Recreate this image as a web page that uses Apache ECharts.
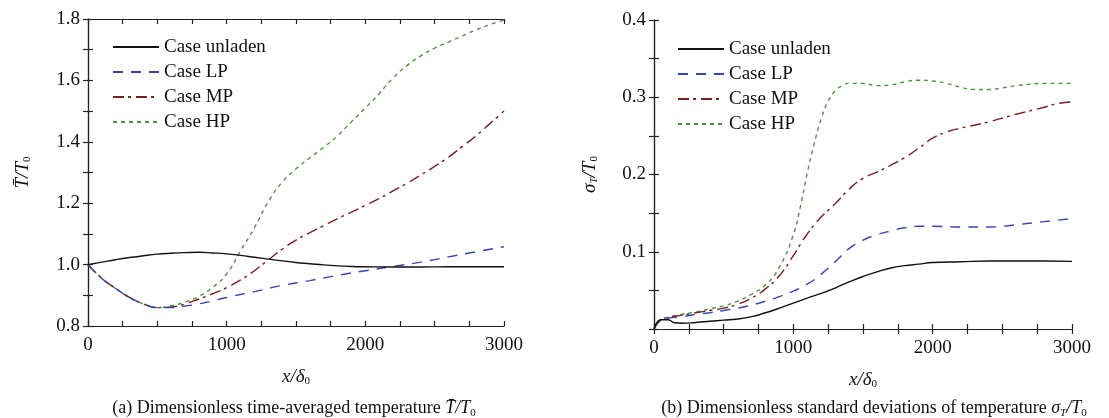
<!DOCTYPE html>
<html><head><meta charset="utf-8">
<script src="https://cdn.jsdelivr.net/npm/echarts@6/dist/echarts.min.js"></script>
<style>html,body{margin:0;padding:0;background:#fff}#c{width:1109px;height:418px}</style>
</head><body><div id="c"></div>
<script>
// ---- Panel (a): time-averaged temperature T̄/T0 ----
const xA_unladen = [0,100,200,300,400,500,600,700,800,900,1000,1100,1200,1300,1400,1500,1600,1700,1800,1900,2000,2200,2400,2600,2800,3000];
const yA_unladen = [1.0,1.008,1.016,1.023,1.029,1.034,1.037,1.039,1.04,1.038,1.035,1.03,1.024,1.018,1.012,1.007,1.003,0.999,0.996,0.994,0.993,0.992,0.992,0.993,0.993,0.993];
const xA_LP = [0,100,200,300,400,500,600,700,800,900,1000,1200,1400,1600,1800,2000,2200,2400,2600,2800,3000];
const yA_LP = [1.0,0.955,0.922,0.893,0.872,0.86,0.86,0.865,0.872,0.882,0.893,0.912,0.932,0.948,0.965,0.98,0.994,1.008,1.025,1.042,1.058];
const xA_MP = [0,100,200,300,400,500,600,700,800,900,1000,1100,1200,1300,1400,1500,1600,1700,1800,1900,2000,2100,2200,2300,2400,2500,2600,2700,2800,2900,3000];
const yA_MP = [1.0,0.955,0.922,0.893,0.872,0.86,0.862,0.872,0.888,0.905,0.925,0.95,0.98,1.015,1.05,1.08,1.104,1.127,1.15,1.171,1.193,1.215,1.24,1.265,1.292,1.32,1.35,1.385,1.42,1.46,1.5];
const xA_HP = [0,100,200,300,400,500,600,700,800,900,1000,1100,1200,1300,1400,1500,1600,1700,1800,1900,2000,2100,2200,2300,2400,2500,2600,2700,2800,2900,3000];
const yA_HP = [1.0,0.955,0.922,0.893,0.872,0.86,0.866,0.878,0.897,0.926,0.97,1.045,1.12,1.205,1.268,1.312,1.348,1.382,1.42,1.465,1.51,1.557,1.608,1.648,1.68,1.705,1.725,1.745,1.765,1.782,1.797];

// ---- Panel (b): standard deviation sigma_T/T0 ----
const xB_unladen = [0,50,100,150,200,300,400,500,600,700,800,900,1000,1100,1200,1300,1400,1500,1600,1700,1800,1900,2000,2200,2400,2600,2800,3000];
const yB_unladen = [0,0.012,0.012,0.008,0.0075,0.0085,0.01,0.0115,0.013,0.016,0.021,0.027,0.0335,0.04,0.046,0.053,0.061,0.068,0.074,0.079,0.082,0.084,0.086,0.087,0.088,0.088,0.088,0.0875];
const xB_LP = [0,50,100,200,300,400,500,600,700,800,900,1000,1100,1200,1300,1400,1500,1600,1700,1800,1900,2000,2200,2400,2600,2800,3000];
const yB_LP = [0,0.012,0.014,0.016,0.019,0.021,0.024,0.027,0.031,0.036,0.042,0.049,0.058,0.071,0.087,0.104,0.115,0.122,0.127,0.131,0.133,0.133,0.132,0.132,0.135,0.139,0.143];
const xB_MP = [0,50,100,200,300,400,500,600,700,800,900,1000,1100,1200,1300,1400,1500,1600,1700,1800,1900,2000,2100,2200,2400,2600,2800,2900,3000];
const yB_MP = [0,0.012,0.015,0.018,0.021,0.024,0.027,0.032,0.04,0.052,0.069,0.095,0.123,0.145,0.162,0.181,0.195,0.203,0.212,0.222,0.234,0.247,0.255,0.26,0.268,0.278,0.287,0.292,0.294];
const xB_HP = [0,50,100,200,300,400,500,600,700,800,900,1000,1050,1100,1150,1200,1250,1300,1350,1400,1500,1600,1700,1800,1900,2000,2100,2200,2300,2400,2500,2600,2700,2800,2900,3000];
const yB_HP = [0,0.012,0.015,0.019,0.022,0.026,0.03,0.036,0.045,0.057,0.08,0.122,0.158,0.202,0.24,0.272,0.295,0.308,0.315,0.318,0.318,0.315,0.316,0.32,0.322,0.321,0.318,0.313,0.31,0.31,0.312,0.315,0.317,0.318,0.318,0.318];

const names = ['Case unladen','Case LP','Case MP','Case HP'];
const colors = ['#111111','#3646b0','#772020','#4f9444'];
const dashes = ['solid',[10,8],[11,4,3,5],[4,4]];
const xTicks = [0,1000,2000,3000];

const FONT = 'Liberation Serif';
const pair = (xs, ys) => xs.map((x,i)=>[x, ys[i]]);
const dataA = [pair(xA_unladen,yA_unladen),pair(xA_LP,yA_LP),pair(xA_MP,yA_MP),pair(xA_HP,yA_HP)];
const dataB = [pair(xB_unladen,yB_unladen),pair(xB_LP,yB_LP),pair(xB_MP,yB_MP),pair(xB_HP,yB_HP)];

const axisLine = {show:true, lineStyle:{color:'#222', width:1.2}};
const tick = {show:true, inside:true, length:5, lineStyle:{color:'#222', width:1.2}};
const lbl = {color:'#111', fontFamily:FONT, fontSize:19};
const rich = {
  i:{fontFamily:FONT, fontStyle:'italic', fontSize:19, color:'#111'},
  s:{fontFamily:FONT, fontSize:11, color:'#111', padding:[10,0,0,0]},
  si:{fontFamily:FONT, fontStyle:'italic', fontSize:11, color:'#111', padding:[10,0,0,0]},
  n:{fontFamily:FONT, fontSize:18, color:'#111'},
  ni:{fontFamily:FONT, fontStyle:'italic', fontSize:18, color:'#111'}
};

function xAxes(gi){
  return [
    {type:'value', gridIndex:gi, min:0, max:3000, interval:250, position:'bottom',
     axisLine, axisTick:tick, splitLine:{show:false},
     axisLabel:{...lbl, margin:10, formatter:v=> xTicks.includes(v) ? String(v) : ''},
     name:'{i|x/δ}{s|0}', nameLocation:'middle', nameGap:40, nameTextStyle:{rich}},
    {type:'value', gridIndex:gi, min:0, max:3000, interval:250, position:'top',
     axisLine, axisTick:tick, splitLine:{show:false}, axisLabel:{show:false}}
  ];
}

const legendBase = {orient:'vertical', itemWidth:46, itemHeight:14, itemGap:5,
  itemStyle:{opacity:0, borderWidth:0},
  textStyle:{fontFamily:FONT, fontSize:19, color:'#111', lineHeight:20}, data:names};

const option = {
  animation:false,
  backgroundColor:'#fff',
  grid:[
    {left:88, right:605, top:19, bottom:92},
    {left:654, right:37, top:20, bottom:89}
  ],
  xAxis:[...xAxes(0), ...xAxes(1)],
  yAxis:[
    {type:'value', gridIndex:0, min:0.8, max:1.8, interval:0.1, position:'left',
     axisLine, axisTick:tick, splitLine:{show:false},
     axisLabel:{...lbl, margin:8, formatter:v=> (Math.round(v*10)%2===0) ? v.toFixed(1) : ''},
     name:'{i|T̄/T}{s|0}', nameLocation:'middle', nameGap:55, nameRotate:90, nameTextStyle:{rich}},
    {type:'value', gridIndex:0, min:0.8, max:1.8, interval:0.1, position:'right',
     axisLine, axisTick:tick, splitLine:{show:false}, axisLabel:{show:false}},
    {type:'value', gridIndex:1, min:0, max:0.4, interval:0.05, position:'left',
     axisLine, axisTick:tick, splitLine:{show:false},
     axisLabel:{...lbl, margin:8, formatter:v=> { const k=Math.round(v*100); return (k>0 && k%10===0) ? (k/100).toFixed(1) : ''; }},
     name:'{i|σ}{si|T}{i|/T}{s|0}', nameLocation:'middle', nameGap:54, nameRotate:90, nameTextStyle:{rich}},
    {type:'value', gridIndex:1, min:0, max:0.4, interval:0.05, position:'right',
     axisLine, axisTick:tick, splitLine:{show:false}, axisLabel:{show:false}}
  ],
  legend:[
    {...legendBase, left:107, top:32},
    {...legendBase, left:672, top:34}
  ],
  title:[
    {text:'(a) Dimensionless time-averaged temperature {ni|T̄/T}{s|0}', left:289, top:393, textAlign:'center',
     textStyle:{fontFamily:FONT, fontSize:18, fontWeight:'normal', color:'#111', rich}},
    {text:'(b) Dimensionless standard deviations of temperature {ni|σ}{si|T}{ni|/T}{s|0}', left:869, top:393, textAlign:'center',
     textStyle:{fontFamily:FONT, fontSize:18, fontWeight:'normal', color:'#111', rich}}
  ],
  series:[
    ...names.map((n,i)=>({name:n, type:'line', xAxisIndex:0, yAxisIndex:0, data:dataA[i],
      showSymbol:false, symbol:'none', smooth:0.5, z: 10-i,
      lineStyle:{color:colors[i], width:1.4, type:dashes[i]}, itemStyle:{color:colors[i]}})),
    ...names.map((n,i)=>({name:n, type:'line', xAxisIndex:2, yAxisIndex:2, data:dataB[i],
      showSymbol:false, symbol:'none', smooth:0.5, z: 10-i,
      lineStyle:{color:colors[i], width:1.4, type:dashes[i]}, itemStyle:{color:colors[i]}}))
  ]
};
const chart = echarts.init(document.getElementById('c'), null, {renderer:'canvas'});
chart.setOption(option);
</script></body></html>
